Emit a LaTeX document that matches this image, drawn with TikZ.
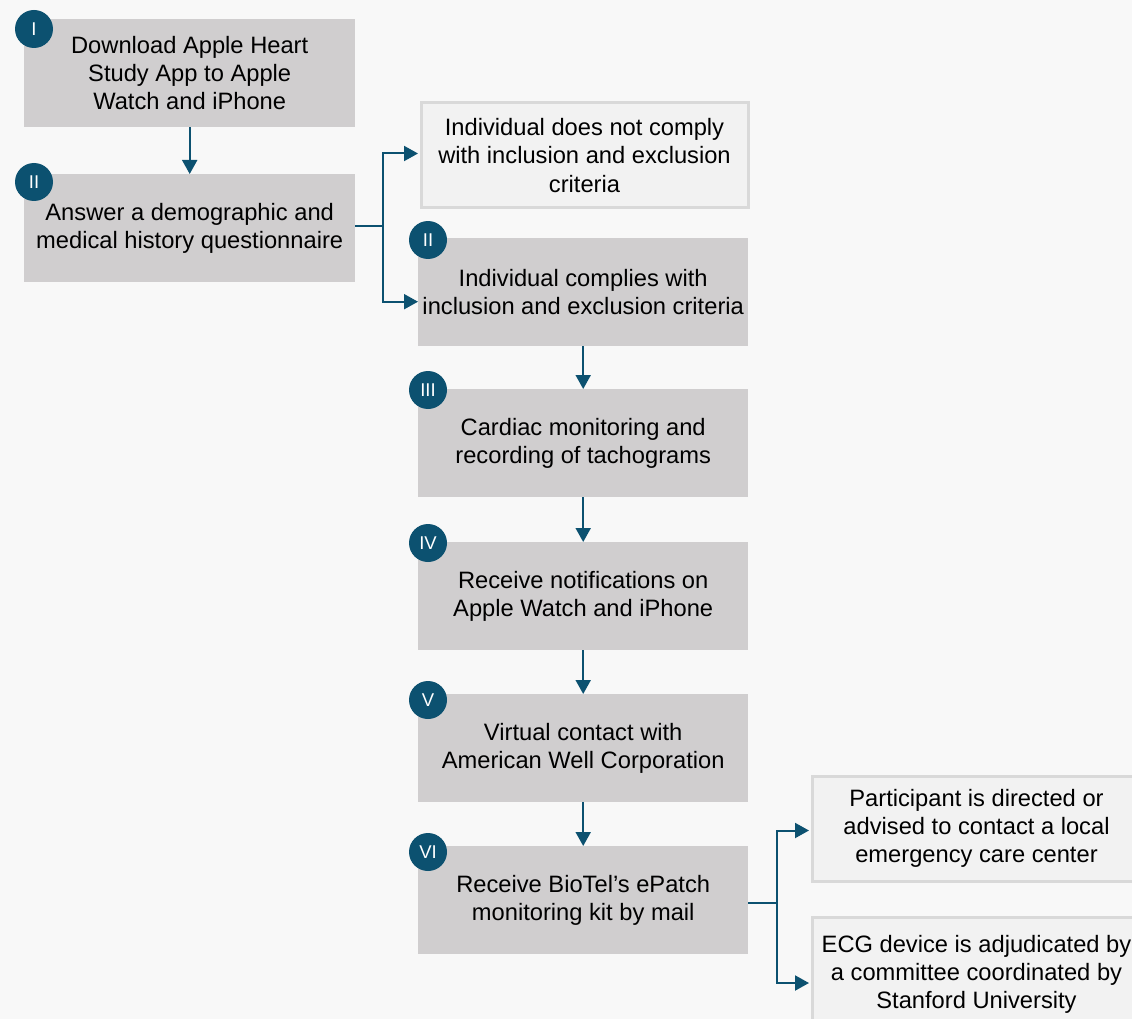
\documentclass[tikz,border=0pt]{standalone}
\usepackage{fontspec}
\setmainfont{Liberation Sans}
\usetikzlibrary{arrows.meta,calc}
\definecolor{bgc}{HTML}{F8F8F8}
\definecolor{boxc}{HTML}{D0CECF}
\definecolor{lightc}{HTML}{F2F2F2}
\definecolor{edgec}{HTML}{D9D9D9}
\definecolor{navy}{HTML}{0C5170}
\begin{document}
\begin{tikzpicture}[x=1pt,y=-1pt,
  stepbox/.style={fill=boxc, draw=none, minimum width=331pt, minimum height=108pt,
    inner sep=0pt, align=center, anchor=north west, text=black,
    font=\fontsize{23.7}{28.3}\selectfont},
  rstepbox/.style={stepbox, minimum width=330pt},
  lightbox/.style={stepbox, fill=lightc, draw=edgec, line width=3pt,
    minimum width=327pt, minimum height=105pt},
  badge/.style={circle, fill=navy, text=white, minimum size=38pt, inner sep=0pt,
    font=\fontsize{18.5}{18.5}\selectfont},
  arr/.style={draw=navy, line width=2pt, -{Triangle[width=15pt,length=14pt]}},
  conn/.style={draw=navy, line width=2pt}]
\fill[bgc] (0,0) rectangle (1132,1019);
\useasboundingbox (0,0) rectangle (1132,1019);
\begin{scope}
\clip (0,0) rectangle (1132,1019);
% boxes
\node[stepbox] (s1) at (24,19) {Download Apple Heart\\Study App to Apple\\Watch and iPhone};
\node[stepbox] (s2) at (24,174) {Answer a demographic and\\medical history questionnaire};
\node[lightbox] (no) at (419.5,101.5) {Individual does not comply\\with inclusion and exclusion\\criteria};
\node[rstepbox] (yes) at (418,238) {Individual complies with\\inclusion and exclusion criteria};
\node[rstepbox] (s3) at (418,389) {Cardiac monitoring and\\recording of tachograms};
\node[rstepbox] (s4) at (418,542) {Receive notifications on\\Apple Watch and iPhone};
\node[rstepbox] (s5) at (418,694) {Virtual contact with\\American Well Corporation};
\node[rstepbox] (s6) at (418,846) {Receive BioTel’s ePatch\\monitoring kit by mail};
\node[lightbox, minimum width=329pt] (er) at (810.5,774.5) {Participant is directed or\\advised to contact a local\\emergency care center};
\node[lightbox, minimum width=329pt, minimum height=110pt, text depth=0pt] (ecg) at (810.5,915.5) {ECG device is adjudicated by\\a committee coordinated by\\Stanford University};
\end{scope}
% badges
\node[badge] (b1) at (34,29) {I};
\node[badge] (b2) at (34,182) {II};
\node[badge] (b2b) at (428,240) {II};
\node[badge] (b3) at (428,390) {III};
\node[badge] (b4) at (428,543) {IV};
\node[badge] (b5) at (428,700) {V};
\node[badge] (b6) at (428,852) {VI};
% connectors
\draw[arr] (s1.south) -- (s2.north);
\coordinate (j1) at ($(s2.east)+(28,-2)$);
\draw[conn] ($(s2.east)+(0,-2)$) -- (j1);
\draw[arr] (j1) |- ($(no.west)+(-1.5,-2)$);
\draw[arr] (j1) |- ($(yes.west)+(0,9.5)$);
\draw[arr] (yes.south) -- (s3.north);
\draw[arr] (s3.south) -- (s4.north);
\draw[arr] (s4.south) -- (s5.north);
\draw[arr] (s5.south) -- (s6.north);
\coordinate (j2) at ($(s6.east)+(29,3)$);
\draw[conn] ($(s6.east)+(0,3)$) -- (j2);
\draw[arr] (j2) |- ($(er.west)+(-1.5,2)$);
\draw[arr] (j2) |- ($(ecg.west)+(-1.5,11)$);
\end{tikzpicture}
\end{document}
